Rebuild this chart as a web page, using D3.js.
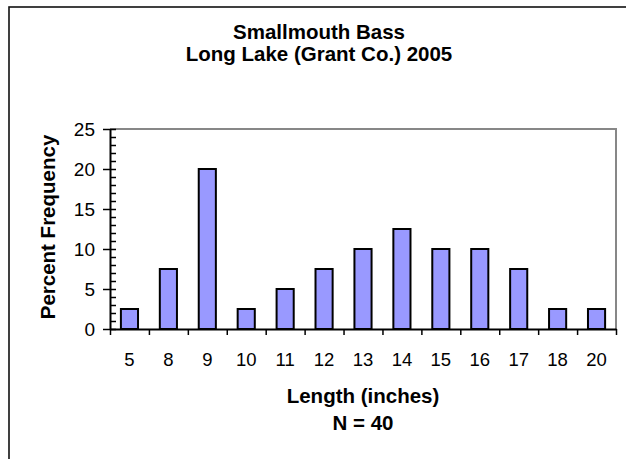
<!DOCTYPE html>
<html>
<head>
<meta charset="utf-8">
<script src="https://cdn.jsdelivr.net/npm/d3@7"></script>
<style>
  body { margin: 0; background: #fff; }
  text { font-family: "Liberation Sans", Arial, sans-serif; fill: #000; }
</style>
</head>
<body>
<div id="container"></div>
<script>
// data
var lengths = ["5", "8", "9", "10", "11", "12", "13", "14", "15", "16", "17", "18", "20"];
var percents = [2.5, 7.5, 20, 2.5, 5, 7.5, 10, 12.5, 10, 10, 7.5, 2.5, 2.5];
var yTicks = [0, 5, 10, 15, 20, 25];
var titleLines = ["Smallmouth Bass", "Long Lake (Grant Co.) 2005"];
var xTitleLines = ["Length (inches)", "N = 40"];
var yTitle = "Percent Frequency";

var W = 626, H = 459;
var svg = d3.select("#container").append("svg").attr("width", W).attr("height", H),
    plot = {left: 110, top: 129, right: 616, bottom: 329};

// outer frame (runs off the picture on the right and bottom)
svg.append("rect")
   .attr("x", 9).attr("y", 7)
   .attr("width", 700).attr("height", 500)
   .attr("fill", "none").attr("stroke", "#111").style("stroke-width", 1.6);

var xScale = d3.scaleBand()
               .domain(lengths)
               .range([plot.left, plot.right])
               .paddingInner(0.56).paddingOuter(0.28);

var xEdges = d3.scaleLinear().domain([0, lengths.length]).range([plot.left, plot.right]);

var yScale = d3.scaleLinear().domain([0, 25]).range([plot.bottom, plot.top]);

// gray plot border top and right
svg.append("path")
   .attr("d", "M" + plot.left + "," + plot.top + "H" + plot.right + "V" + plot.bottom)
   .attr("fill", "none").attr("stroke", "#878787").style("stroke-width", 2);

// bars
svg.selectAll("rect.bar")
   .data(percents)
   .enter().append("rect")
   .attr("class", "bar")
   .attr("x", function(d, i) { return xScale(lengths[i]); })
   .attr("width", xScale.bandwidth())
   .attr("y", function(d) { return yScale(d); })
   .attr("height", function(d) { return yScale(0) - yScale(d); })
   .attr("fill", "#9999ff")
   .attr("stroke", "#000")
   .style("stroke-width", 2);

// y axis: minor ticks inside, major ticks outside with labels
svg.append("g")
   .attr("transform", "translate(" + plot.left + ",0)")
   .call(d3.axisRight(yScale).tickValues(d3.range(0, 26, 1)).tickSize(6).tickFormat("").tickSizeOuter(0))
   .call(function(g) { g.select(".domain").remove(); g.selectAll("line").attr("stroke", "#000").style("stroke-width", 1.5); });

svg.append("g")
   .attr("transform", "translate(" + plot.left + ",0)")
   .call(d3.axisLeft(yScale).tickValues(yTicks).tickSize(7).tickSizeOuter(0).tickPadding(8))
   .call(function(g) {
     g.select(".domain").attr("stroke", "#000").style("stroke-width", 2);
     g.selectAll("line").attr("stroke", "#000").style("stroke-width", 1.5);
     g.selectAll("text").style("font-size", "19px").attr("font-family", null);
   });

// x axis: ticks at category edges, labels centred
svg.append("g")
   .attr("transform", "translate(0," + plot.bottom + ")")
   .call(d3.axisBottom(xEdges).tickValues(d3.range(0, lengths.length + 1)).tickSize(6).tickSizeOuter(0).tickFormat(""))
   .call(function(g) {
     g.select(".domain").attr("stroke", "#000").style("stroke-width", 2);
     g.selectAll("line").attr("stroke", "#000").style("stroke-width", 1.5);
   });

svg.append("g")
   .attr("transform", "translate(0," + plot.bottom + ")")
   .call(d3.axisBottom(xScale).tickSize(0).tickPadding(0))
   .call(function(g) {
     g.select(".domain").remove();
     g.selectAll("text").attr("y", 37).attr("dy", null)
      .style("font-size", "18.5px").attr("font-family", null);
   });

// titles
var cx = (plot.left + plot.right) / 2;
svg.selectAll("text.title")
   .data(titleLines)
   .enter().append("text")
   .attr("class", "title")
   .attr("x", 319)
   .attr("y", function(d, i) { return 39 + i * 22; })
   .attr("text-anchor", "middle")
   .style("font-size", "20.5px").style("font-weight", "bold")
   .text(function(d) { return d; });

svg.selectAll("text.xtitle")
   .data(xTitleLines)
   .enter().append("text")
   .attr("class", "xtitle")
   .attr("x", cx)
   .attr("y", function(d, i) { return 403 + i * 27; })
   .attr("text-anchor", "middle")
   .style("font-size", "20.5px").style("font-weight", "bold")
   .text(function(d) { return d; });

svg.append("text")
   .attr("transform", "translate(55,227) rotate(-90)")
   .attr("text-anchor", "middle")
   .style("font-size", "20.5px").style("font-weight", "bold")
   .text(yTitle);
</script>
</body>
</html>
